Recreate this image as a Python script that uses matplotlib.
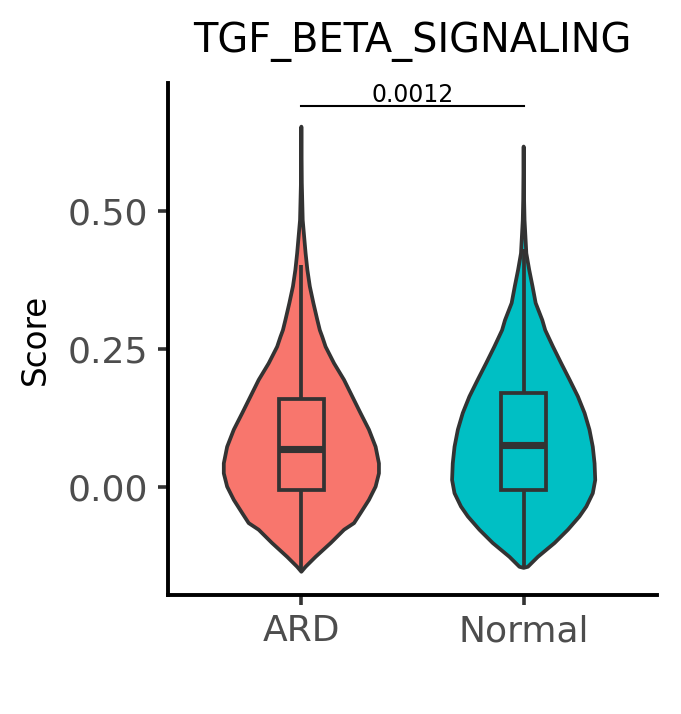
import numpy as np
import matplotlib.pyplot as plt
from matplotlib.patches import Rectangle

groups = ["ARD", "Normal"]
fill_colors = ["#F8766D", "#00BFC4"]
title = "TGF_BETA_SIGNALING"

# violin outlines: score level -> half width (x units)
ard_score = [0.652, 0.55, 0.483, 0.423, 0.393, 0.363, 0.333, 0.302, 0.284, 0.272,
             0.254, 0.224, 0.194, 0.164, 0.134, 0.104, 0.073, 0.043, 0.025, 0.001,
             -0.023, -0.047, -0.065, -0.077, -0.101, -0.126, -0.144, -0.153]
ard_half = [0.0, 0.002, 0.006, 0.019, 0.027, 0.038, 0.054, 0.072, 0.083, 0.094,
            0.109, 0.147, 0.192, 0.229, 0.266, 0.304, 0.334, 0.349, 0.349, 0.334,
            0.304, 0.266, 0.237, 0.192, 0.132, 0.064, 0.019, 0.0]

normal_score = [0.616, 0.52, 0.483, 0.423, 0.393, 0.363, 0.333, 0.302, 0.284, 0.254,
                0.224, 0.194, 0.164, 0.134, 0.104, 0.073, 0.043, 0.013, -0.011, -0.035,
                -0.053, -0.077, -0.101, -0.126, -0.144, -0.146]
normal_half = [0.0, 0.002, 0.004, 0.012, 0.025, 0.040, 0.054, 0.084, 0.097, 0.132,
               0.169, 0.207, 0.244, 0.274, 0.296, 0.311, 0.319, 0.322, 0.311, 0.282,
               0.251, 0.199, 0.139, 0.064, 0.019, 0.0]

# box stats: lower whisker, q1, median, q3, upper whisker
ard_box = [-0.153, -0.005, 0.069, 0.159, 0.402]
normal_box = [-0.146, -0.006, 0.076, 0.170, 0.430]

p_label = "0.0012"
bracket_y = 0.689

y_ticks = [0.0, 0.25, 0.5]
y_tick_labels = ["0.00", "0.25", "0.50"]

outline = "#333333"
lw = 2.7

fig = plt.figure(figsize=(6.81, 7.14), dpi=100)
ax = fig.add_axes([0.2467, 0.1667, 0.7181, 0.7171])

violins = [(ard_score, ard_half), (normal_score, normal_half)]
boxes = [ard_box, normal_box]

for i, (scores, halves) in enumerate(violins):
    pos = i + 1
    s = np.array(scores)
    h = np.array(halves)
    xs = np.concatenate([pos - h, (pos + h)[::-1]])
    ys = np.concatenate([s, s[::-1]])
    ax.fill(xs, ys, facecolor=fill_colors[i], edgecolor=outline, linewidth=lw,
            joinstyle="round", zorder=2)

    lo, q1, med, q3, hi = boxes[i]
    ax.vlines(pos, lo, q1, color=outline, linewidth=lw, zorder=3)
    ax.vlines(pos, q3, hi, color=outline, linewidth=lw, zorder=3)
    ax.add_patch(Rectangle((pos - 0.1, q1), 0.2, q3 - q1, facecolor=fill_colors[i],
                           edgecolor=outline, linewidth=lw, zorder=4))
    ax.hlines(med, pos - 0.1, pos + 0.1, color=outline, linewidth=lw * 1.9, zorder=5)

# significance bracket
ax.plot([1, 2], [bracket_y, bracket_y], color="black", linewidth=1.5, zorder=6)
ax.text(1.5, bracket_y + 0.008, p_label, ha="center", va="baseline", fontsize=17)

ax.set_xlim(0.4, 2.6)
ax.set_ylim(-0.195, 0.731)
ax.set_xticks([1, 2])
ax.set_xticklabels(groups)
ax.set_yticks(y_ticks)
ax.set_yticklabels(y_tick_labels)

for side in ["top", "right"]:
    ax.spines[side].set_visible(False)
for side in ["left", "bottom"]:
    ax.spines[side].set_linewidth(2.8)
    ax.spines[side].set_color("black")
    ax.spines[side].set_capstyle("projecting")

ax.tick_params(axis="both", length=7, width=2.6, color=outline,
               labelcolor="#4D4D4D", labelsize=26, pad=7)

ax.set_title(title, fontsize=28.7, pad=22)
fig.text(0.052, 0.525, "Score", rotation=90, ha="center", va="center", fontsize=23.5)

fig.savefig("out.png", dpi=100)
